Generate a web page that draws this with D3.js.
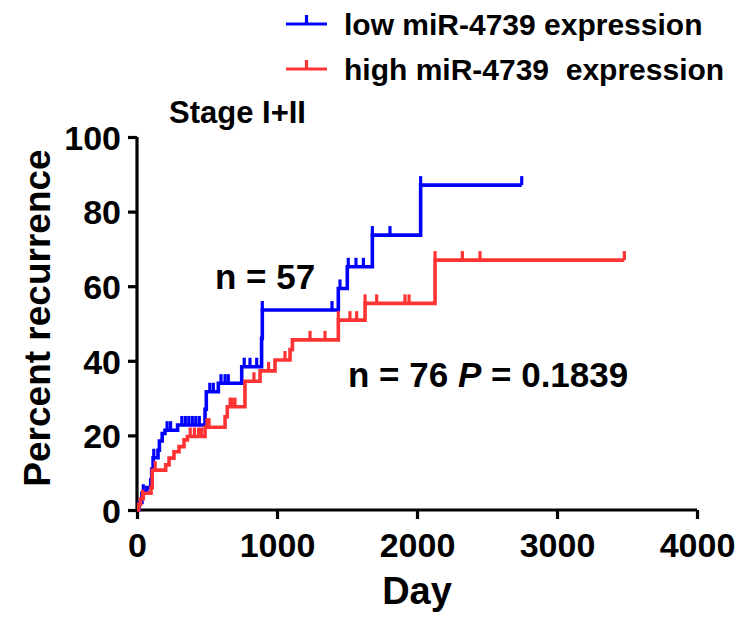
<!DOCTYPE html>
<html><head><meta charset="utf-8">
<script src="https://cdn.jsdelivr.net/npm/d3@7"></script>
<style>
html,body{margin:0;padding:0;background:#fff;}
svg{display:block;font-family:"Liberation Sans",Arial,sans-serif;}
</style></head>
<body>
<svg id="chart" width="742" height="617"></svg>
<script>
// ---- data ----
const seriesNames = ["low miR-4739 expression", "high miR-4739  expression"];
const seriesColors = ["#0000ff", "#ff3333"];
const lowSteps = [[0,0],[15,2],[35,4.5],[70,6],[98,8],[105,11],[115,14],[150,16],[160,18.5],[180,20.5],[200,21.4],[290,22.8],[486,27],[495,31.7],[581,34],[748,38.4],[890,46],[895,53.6],[1438,59.4],[1502,65.2],[1681,73.7],[2026,87.1],[2748,87.1]];
const lowCensor = [45,120,215,240,320,345,370,395,420,445,520,545,600,629,652,766,807,855,895,1393,1450,1509,1564,1617,1681,1807,2026,2748];
const highSteps = [[0,0],[12,1.5],[25,3],[45,4.5],[100,6],[109,10.7],[205,12.1],[229,13.9],[264,15.6],[300,17],[336,18.8],[360,19.7],[486,22.2],[629,25],[645,27.7],[771,34.5],[879,37.3],[986,40.2],[1093,43],[1110,45.6],[1438,50.9],[1629,55.4],[2129,67],[3481,67]];
const highCensor = [40,130,380,410,440,460,500,515,665,680,700,835,940,1057,1236,1343,1438,1521,1569,1629,1712,1914,1943,2129,2324,2450,3481];
const xTicks = [0,1000,2000,3000,4000];
const yTicks = [0,20,40,60,80,100];
const titleText = "Stage I+II";
const xLabel = "Day";
const yLabel = "Percent recurrence";
const annot1 = "n = 57";
const annot2a = "n = 76 ", annot2b = "P", annot2c = " = 0.1839";

// ---- layout ----
const svg = d3.select("#chart");
const x = d3.scaleLinear().domain([0,4000]).range([137,697]);
const y = d3.scaleLinear().domain([0,100]).range([510,137]);

// axes
const xAxis = d3.axisBottom(x).tickValues(xTicks).tickSize(9).tickPadding(6).tickFormat(d3.format("d"));
const yAxis = d3.axisLeft(y).tickValues(yTicks).tickSize(9).tickPadding(7).tickFormat(d3.format("d"));
const gx = svg.append("g").attr("transform","translate(0,510)").call(xAxis);
const gy = svg.append("g").attr("transform","translate(137,0)").call(yAxis);
[gx,gy].forEach(g=>{
  g.select(".domain").attr("stroke","#000").attr("stroke-width",3.2);
  g.selectAll(".tick line").attr("stroke","#000").attr("stroke-width",3.2);
  g.selectAll(".tick text").attr("fill","#000").style("font-size","34px").style("font-weight","bold")
   .style("font-family",'"Liberation Sans",Arial,sans-serif');
});
gx.select(".domain").attr("d","M137,0H697");
gy.select(".domain").attr("d","M0,510V137");
gx.selectAll(".tick text").attr("dy","0.95em");
gy.selectAll(".tick text").attr("dy","0.36em");

// curves
const line = d3.line().x(d=>x(d[0])).y(d=>y(d[1])).curve(d3.curveStepAfter);
function valAt(steps, day){
  let v = steps[0][1];
  for (const s of steps){ if (s[0] <= day) v = s[1]; }
  return v;
}
const all = [[lowSteps,lowCensor],[highSteps,highCensor]];
[0,1].forEach(i=>{
  const [steps,cens] = all[i];
  const g = svg.append("g");
  g.append("path").attr("d",line(steps)).attr("fill","none")
    .attr("stroke",seriesColors[i]).attr("stroke-width",3.6);
  g.selectAll("line").data(cens).enter().append("line")
    .attr("x1",d=>x(d)).attr("x2",d=>x(d))
    .attr("y1",d=>y(valAt(steps,d))).attr("y2",d=>y(valAt(steps,d))-9)
    .attr("stroke",seriesColors[i]).attr("stroke-width",3.2);
});

// legend
const legY = [24,69];
seriesNames.forEach((name,i)=>{
  const g = svg.append("g");
  g.append("line").attr("x1",286).attr("x2",327).attr("y1",legY[i]).attr("y2",legY[i])
    .attr("stroke",seriesColors[i]).attr("stroke-width",3.2);
  g.append("line").attr("x1",306.5).attr("x2",306.5).attr("y1",legY[i]).attr("y2",legY[i]-9)
    .attr("stroke",seriesColors[i]).attr("stroke-width",3.2);
  g.append("text").attr("x",344).attr("y",legY[i]+11).text(name)
    .style("font-size","30px").style("font-weight","bold").attr("fill","#000")
    .style("white-space","pre");
});

// title
svg.append("text").attr("x",169).attr("y",123).text(titleText)
  .style("font-size","31px").style("font-weight","bold");

// axis labels
svg.append("text").attr("x",417).attr("y",604).attr("text-anchor","middle").text(xLabel)
  .style("font-size","38px").style("font-weight","bold");
svg.append("text").attr("transform","translate(50,318) rotate(-90)").attr("text-anchor","middle").text(yLabel)
  .style("font-size","37px").style("font-weight","bold");

// annotations
svg.append("text").attr("x",215).attr("y",289).text(annot1)
  .style("font-size","35px").style("font-weight","bold");
const t2 = svg.append("text").attr("x",348).attr("y",387).style("font-size","35px").style("font-weight","bold")
  .style("white-space","pre");
t2.append("tspan").text(annot2a);
t2.append("tspan").text(annot2b).style("font-style","italic");
t2.append("tspan").text(annot2c);
</script>
</body></html>
